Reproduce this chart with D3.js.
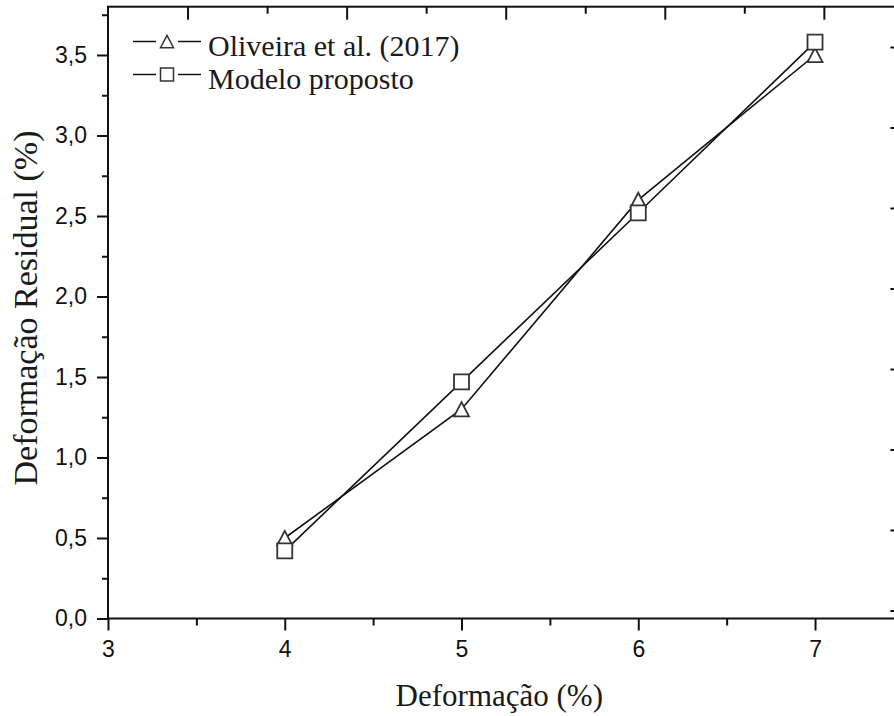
<!DOCTYPE html>
<html>
<head>
<meta charset="utf-8">
<script src="https://cdn.jsdelivr.net/npm/d3@7"></script>
<style>
  html, body { margin: 0; padding: 0; background: #fff; }
  svg { display: block; }
</style>
</head>
<body>
<svg id="chart" width="894" height="716"></svg>
<script>
// ---- data ----
const deformacao = [4, 5, 6, 7];
const oliveira = [0.50, 1.30, 2.60, 3.50];
const modelo = [0.42, 1.47, 2.52, 3.58];
const seriesNames = ["Oliveira et al. (2017)", "Modelo proposto"];
const xMajorTicks = [3, 4, 5, 6, 7];
const xMinorTicks = [3.5, 4.5, 5.5, 6.5];
const yMajorTicks = [0, 0.5, 1.0, 1.5, 2.0, 2.5, 3.0, 3.5];
const yMinorTicks = [0.25, 0.75, 1.25, 1.75, 2.25, 2.75, 3.25, 3.75];
const xTitle = "Deformação (%)";
const yTitle = "Deformação Residual (%)";

(function () {
// ---- layout ----
const svg = d3.select("#chart");
const pL = 108, pR = 903.4, pT = 6.7, pB = 618.5;
const x = d3.scaleLinear().domain([3, 7.5]).range([pL, pR]);
const y = d3.scaleLinear().domain([0, 3.8]).range([pB, pT]);
const xTop = d3.scaleLinear().domain([0, 10]).range([pL, pR]);

const fmt = d => d3.format(".1f")(d).replace(".", ",");
const axisColor = "#111";

function styleAxis(g) {
  g.selectAll("path.domain").remove();
  g.selectAll(".tick line").attr("stroke", axisColor).attr("stroke-width", 2);
  g.selectAll(".tick text")
    .attr("fill", "#111")
    .style("font-family", "'Liberation Sans', Arial, sans-serif")
    .style("font-size", "23px");
}

// frame
svg.append("rect")
  .attr("x", pL).attr("y", pT)
  .attr("width", pR - pL).attr("height", pB - pT)
  .attr("fill", "none").attr("stroke", axisColor).attr("stroke-width", 2);

// left axis
svg.append("g").attr("transform", `translate(${pL},0)`)
  .call(d3.axisLeft(y).tickValues(yMajorTicks).tickSize(11).tickPadding(10).tickFormat(fmt))
  .call(styleAxis);
svg.append("g").attr("transform", `translate(${pL},0)`)
  .call(d3.axisLeft(y).tickValues(yMinorTicks).tickSize(6).tickFormat(""))
  .call(styleAxis);

// bottom axis
svg.append("g").attr("transform", `translate(0,${pB})`)
  .call(d3.axisBottom(x).tickValues(xMajorTicks).tickSize(12).tickPadding(10).tickFormat(d3.format("d")))
  .call(styleAxis);
svg.append("g").attr("transform", `translate(0,${pB})`)
  .call(d3.axisBottom(x).tickValues(xMinorTicks).tickSize(7).tickFormat(""))
  .call(styleAxis);

// top axis (inward ticks)
svg.append("g").attr("transform", `translate(0,${pT})`)
  .call(d3.axisTop(xTop).tickValues([1, 3, 5, 7, 9]).tickSize(-13).tickFormat(""))
  .call(styleAxis);
svg.append("g").attr("transform", `translate(0,${pT})`)
  .call(d3.axisTop(xTop).tickValues([2, 4, 6, 8]).tickSize(-7).tickFormat(""))
  .call(styleAxis);

// right axis (inward ticks)
svg.append("g").attr("transform", `translate(${pR},-8)`)
  .call(d3.axisRight(y).tickValues(yMajorTicks).tickSize(-13).tickFormat(""))
  .call(styleAxis);
svg.append("g").attr("transform", `translate(${pR},-8)`)
  .call(d3.axisRight(y).tickValues(yMinorTicks).tickSize(-7).tickFormat(""))
  .call(styleAxis);

// axis titles
svg.append("text")
  .attr("x", 603).attr("y", 706)
  .attr("text-anchor", "end")
  .style("font-family", "'Liberation Serif', 'Times New Roman', serif")
  .style("font-size", "31px").attr("fill", "#1a1a1a")
  .text(xTitle);
svg.append("text")
  .attr("transform", `translate(37,308) rotate(-90)`)
  .attr("text-anchor", "middle")
  .style("font-family", "'Liberation Serif', 'Times New Roman', serif")
  .style("font-size", "34px").attr("fill", "#1a1a1a")
  .text(yTitle);

// markers
function triPath(s) {
  const h = s * 0.95, w = s;
  return `M0,${-h/2} L${w/2},${h/2} L${-w/2},${h/2} Z`;
}
function sqPath(s) {
  return `M${-s/2},${-s/2} h${s} v${s} h${-s} Z`;
}

const series = [
  { name: seriesNames[0], values: oliveira, shape: triPath },
  { name: seriesNames[1], values: modelo, shape: sqPath }
];

const line = d3.line().x(d => x(d[0])).y(d => y(d[1]));

series.forEach(s => {
  const pts = deformacao.map((d, i) => [d, s.values[i]]);
  svg.append("path").datum(pts)
    .attr("d", line)
    .attr("fill", "none").attr("stroke", "#111").attr("stroke-width", 1.6);
});
series.forEach(s => {
  const pts = deformacao.map((d, i) => [d, s.values[i]]);
  svg.append("g").selectAll("path").data(pts).join("path")
    .attr("transform", d => `translate(${x(d[0])},${y(d[1])})`)
    .attr("d", s.shape(15))
    .attr("fill", "#fff").attr("stroke", "#333").attr("stroke-width", 1.8);
});

// legend
const legend = svg.append("g");
series.forEach((s, i) => {
  const cy = 41.5 + i * 33;
  const g = legend.append("g").attr("transform", `translate(0,${cy})`);
  g.append("line").attr("x1", 133).attr("x2", 156).attr("y1", 0).attr("y2", 0)
    .attr("stroke", "#111").attr("stroke-width", 1.5);
  g.append("line").attr("x1", 178).attr("x2", 201).attr("y1", 0).attr("y2", 0)
    .attr("stroke", "#111").attr("stroke-width", 1.5);
  g.append("path").attr("transform", "translate(167,0)")
    .attr("d", s.shape(13))
    .attr("fill", "#fff").attr("stroke", "#333").attr("stroke-width", 1.5);
  g.append("text").attr("x", 208).attr("y", 14.5)
    .style("font-family", "'Liberation Serif', 'Times New Roman', serif")
    .style("font-size", "30px").attr("fill", "#1a1a1a")
    .text(s.name);
});
})();
</script>
</body>
</html>
